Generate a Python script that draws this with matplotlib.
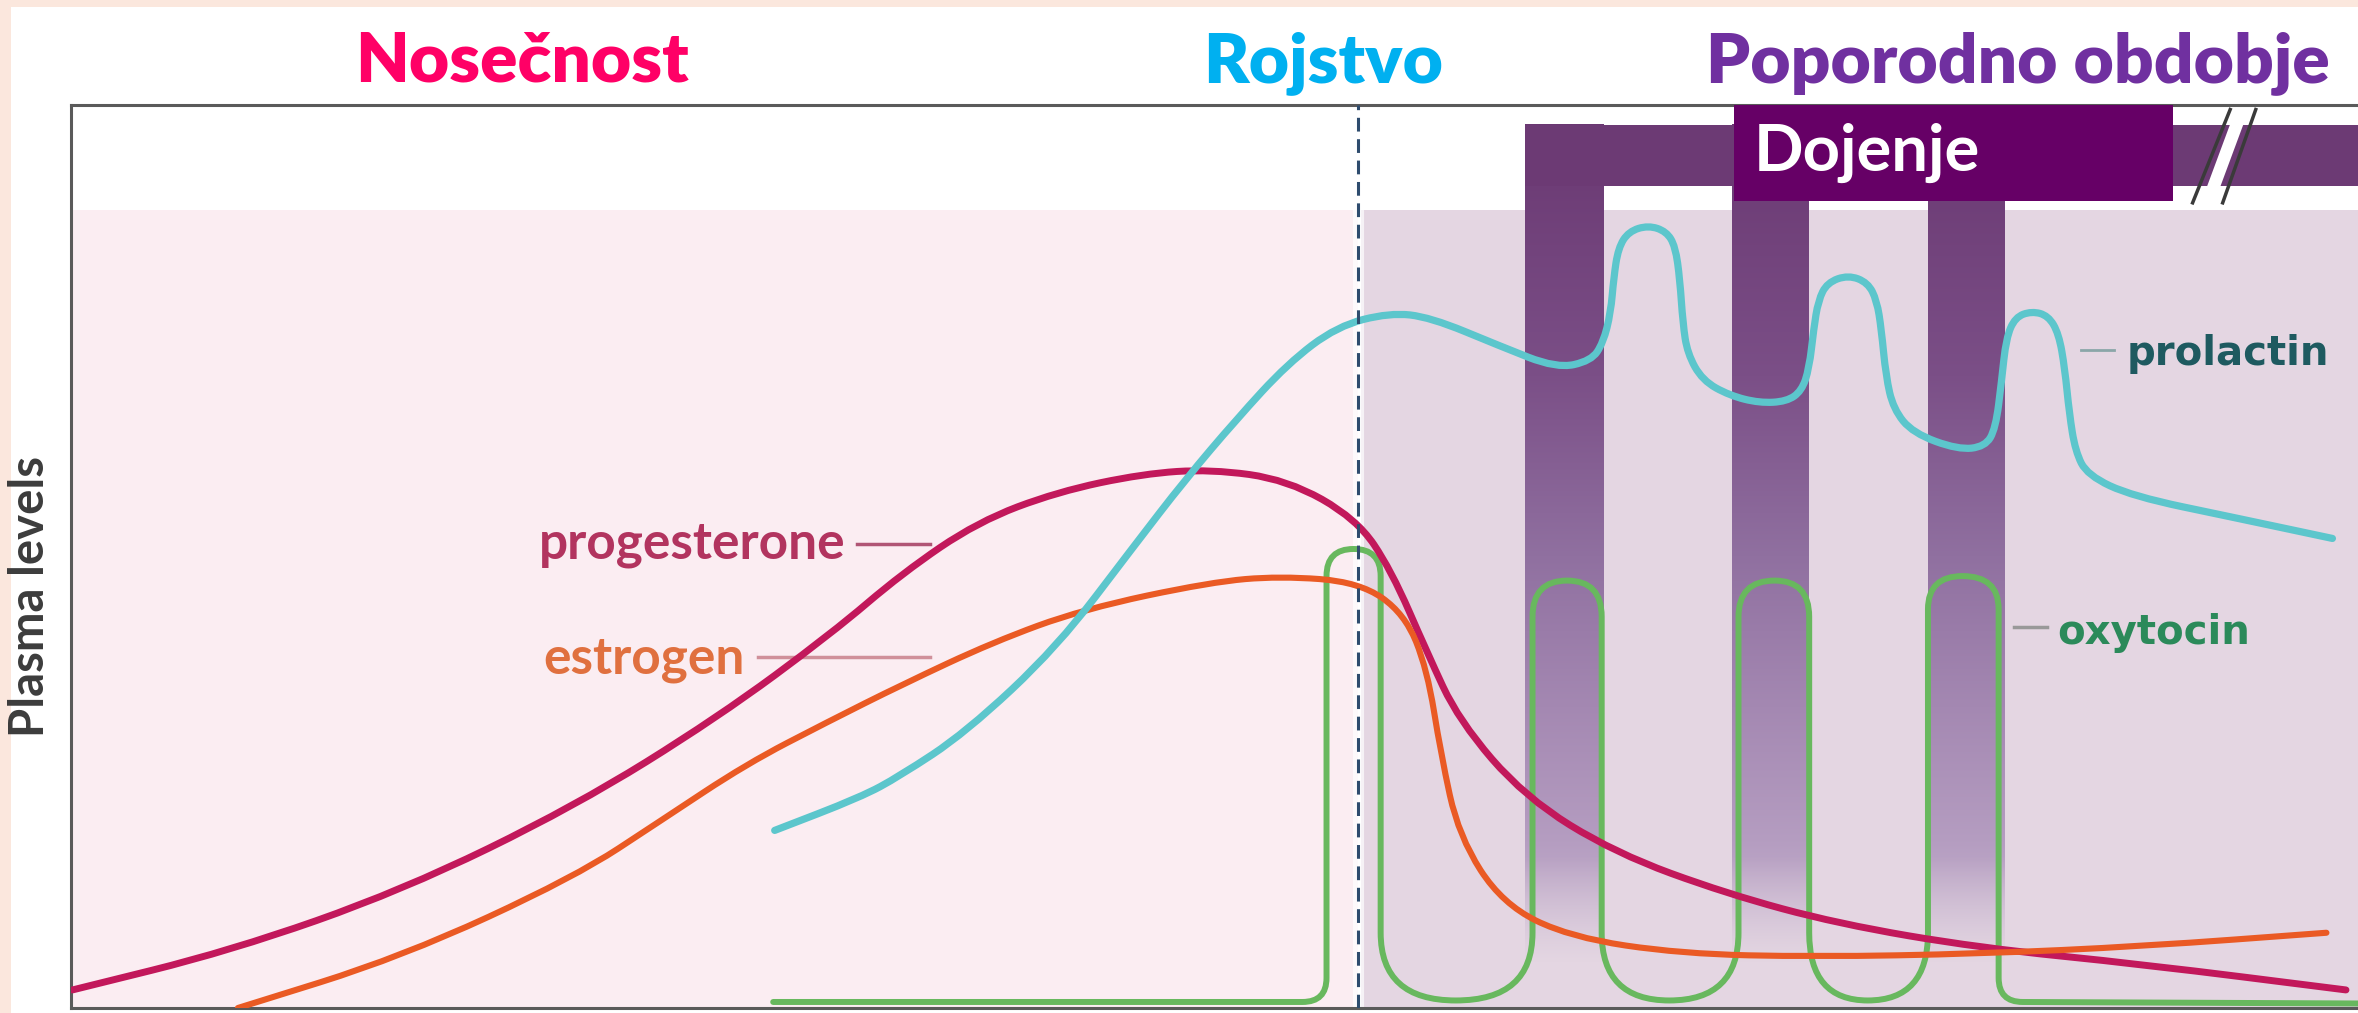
import numpy as np
import matplotlib
matplotlib.use('Agg')
import matplotlib.pyplot as plt
from matplotlib.patches import Rectangle, PathPatch
from matplotlib.path import Path
from matplotlib.colors import to_rgb

# --- data (time in arbitrary units, level in arbitrary units) ---
prog_t = [1, 106, 220, 335, 430, 506, 553, 603, 656, 713, 758, 809, 855, 878,
          902, 923, 967, 1027, 1101, 1175, 1269, 1378, 1513]
prog_L = [12, 38, 78, 134, 193, 249, 289, 323, 343, 355, 358, 351, 325, 291,
          236, 191, 140, 103, 76, 56, 40, 29, 12]

estr_t = [111, 220, 335, 393, 449, 503, 553, 613, 673, 758, 804, 857, 887, 902, 911, 923,
          952, 997, 1071, 1160, 1269, 1378, 1500]
estr_L = [0, 34, 87, 125, 162, 190, 215, 243, 265, 283, 287, 283, 262, 225, 169, 114,
          69, 47, 36, 34, 36, 41, 50]

prol_t = [468, 525, 551, 595, 656, 707, 741, 775, 809, 842, 877, 904, 950, 988, 1011, 1019,
          1024, 1026, 1029, 1036, 1049, 1061, 1067, 1070, 1072, 1075, 1085, 1103, 1123, 1141,
          1151, 1156, 1159, 1162, 1168, 1182, 1195, 1201, 1204, 1207, 1212, 1225, 1255, 1273,
          1280, 1284, 1287, 1293, 1304, 1315, 1322, 1326, 1329, 1333, 1341, 1371, 1438, 1504]
prol_L = [118, 140, 154, 183, 240, 307, 351, 391, 428, 453, 462, 459, 440, 425, 430, 442,
          462, 485, 505, 516, 520, 516, 506, 484, 455, 435, 417, 407, 402, 403,
          410, 425, 451, 470, 482, 487, 482, 470, 451, 420, 398, 382, 371, 373,
          385, 417, 445, 459, 463, 460, 448, 425, 395, 370, 354, 340, 326, 312]

# oxytocin: vertices of a rounded pulse train (M=move, L=line, C=quadratic corner)
oxy_t = [467, 819, 835, 835, 835, 835, 853, 871, 871, 871, 871, 921, 972, 972, 972, 972,
         995, 1018, 1018, 1018, 1018, 1063, 1109, 1109, 1109, 1109, 1133, 1156, 1156, 1156,
         1156, 1195, 1235, 1235, 1235, 1235, 1258, 1282, 1282, 1282, 1282, 1298, 1521]
oxy_L = [4, 4, 4, 20, 287, 305, 305, 305, 287, 50, 5, 5, 5, 50, 260, 284, 284, 284, 260,
         50, 5, 5, 5, 50, 260, 284, 284, 284, 260, 50, 5, 5, 5, 50, 265, 287, 287, 287,
         265, 20, 4, 4, 3]
oxy_codes = "MLCCL" + "CCCCL" * 7 + "CCL"

birth_t = 856
feed_bars = [(967, 1019), (1105, 1156), (1235, 1286)]

phase_titles = ["Nosečnost", "Rojstvo", "Poporodno obdobje"]
phase_colors = ["#ff0066", "#00b0f0", "#7030a0"]
phase_x = [0.2214, 0.561, 0.8558]


def smooth_path(xs, ys):
    # read points used as quadratic bezier controls so the renderer draws a smooth curve
    pts = np.column_stack([xs, ys]).astype(float)
    mids = (pts[:-1] + pts[1:]) / 2
    verts = [pts[0], mids[0]]
    codes = [Path.MOVETO, Path.LINETO]
    for i in range(1, len(pts) - 1):
        verts += [pts[i], mids[i]]
        codes += [Path.CURVE3, Path.CURVE3]
    verts.append(pts[-1])
    codes.append(Path.LINETO)
    return Path(verts, codes)


# --- figure ---
fig = plt.figure(figsize=(23.58, 10.13), dpi=100, facecolor='#fbe7dd')
fig.patches.append(Rectangle((11 / 2358, 0), 1, 1 - 7 / 1013, transform=fig.transFigure,
                             facecolor='white', edgecolor='none', zorder=-10))

ax = fig.add_axes([71 / 2358, 5 / 1013, 2287 / 2358, 903 / 1013])
ax.set_facecolor('white')

# backgrounds
ax.add_patch(Rectangle((0, 0), birth_t, 530, facecolor='#fbedf2', edgecolor='none', zorder=0))
ax.add_patch(Rectangle((birth_t + 2, 0), 1521 - birth_t, 530, facecolor='#e4d6e2',
                       edgecolor='none', zorder=0))

# breastfeeding bars with fading gradient
stops_L = [30, 110, 200, 300, 420, 587]
stops_c = [to_rgb(c) for c in ['#cdbdd3', '#b59dc1', '#a488b2', '#9070a0', '#7b4f87', '#6a3872']]
Lg = np.linspace(30, 587, 400)
rgb = np.stack([np.interp(Lg, stops_L, [c[i] for c in stops_c]) for i in range(3)], axis=1)
alpha = np.clip((Lg - 30) / 70, 0, 1)
grad = np.concatenate([rgb, alpha[:, None]], axis=1)[:, None, :]
for t0, t1 in feed_bars:
    ax.imshow(grad, extent=[t0, t1, 30, 587], origin='lower', aspect='auto',
              interpolation='bilinear', zorder=2)
ax.add_patch(Rectangle((967, 546), 1521 - 967, 41, facecolor='#6c3a74', edgecolor='none', zorder=2))

# break mark on the bar
ax.plot([1421, 1444], [535, 597], color='white', lw=9, solid_capstyle='butt', zorder=3)
ax.plot([1411, 1436], [535, 597], color='#3a3a3a', lw=2.5, zorder=3)
ax.plot([1431, 1453], [535, 597], color='#3a3a3a', lw=2.5, zorder=3)

# Dojenje box
ax.add_patch(Rectangle((1106, 536), 292, 64, facecolor='#660066', edgecolor='none', zorder=4))
ax.text(1119, 556, "Dojenje", color='white', fontsize=47, fontweight='bold',
        family=['Lato', 'DejaVu Sans'], ha='left', va='baseline', zorder=5)

# birth line
ax.plot([birth_t, birth_t], [0, 600], color='white', lw=8, alpha=0.7, zorder=1)
ax.plot([birth_t, birth_t], [0, 600], color='#2e4c6e', lw=2.2, dashes=(4.5, 2.5), zorder=6)

# hormone curves
ax.add_patch(PathPatch(smooth_path(prog_t, prog_L), facecolor='none', edgecolor='#c2185b',
                       lw=5.0, capstyle='round', joinstyle='round', zorder=5))
ax.add_patch(PathPatch(smooth_path(estr_t, estr_L), facecolor='none', edgecolor='#ea5a24',
                       lw=4.4, capstyle='round', joinstyle='round', zorder=5))
ax.add_patch(PathPatch(smooth_path(prol_t, prol_L), facecolor='none', edgecolor='#5cc6cc',
                       lw=5.2, capstyle='round', joinstyle='round', zorder=5))
code_map = {'M': Path.MOVETO, 'L': Path.LINETO, 'C': Path.CURVE3}
oxy_path = Path(np.column_stack([oxy_t, oxy_L]), [code_map[c] for c in oxy_codes])
ax.add_patch(PathPatch(oxy_path, facecolor='none', edgecolor='#68b85e', lw=4.3,
                       capstyle='round', zorder=4))

# curve labels with leader lines
lab_font = ['Lato', 'DejaVu Sans']
ax.text(515, 299, "progesterone", color='#b2345f', fontsize=37, fontweight='bold',
        family=lab_font, ha='right', va='baseline', zorder=6)
ax.plot([523, 571], [308, 308], color='#b05575', lw=2.5, zorder=4)
ax.text(448, 222, "estrogen", color='#e0703f', fontsize=37, fontweight='bold',
        family=lab_font, ha='right', va='baseline', zorder=6)
ax.plot([457, 571], [233, 233], color='#d0909a', lw=2.5, zorder=4)
ax.text(1367, 427, "prolactin", color='#1e5a60', fontsize=29, fontweight='bold',
        ha='left', va='baseline', zorder=6)
ax.plot([1337, 1359], [437, 437], color='#8aa6a8', lw=2, zorder=4)
ax.text(1321, 242, "oxytocin", color='#2b8a5a', fontsize=29, fontweight='bold',
        ha='left', va='baseline', zorder=6)
ax.plot([1292, 1314], [253, 253], color='#999999', lw=2.5, zorder=4)

ax.set_xlim(0, 1521)
ax.set_ylim(0, 600)
ax.set_xticks([])
ax.set_yticks([])
for side in ['left', 'top', 'bottom']:
    ax.spines[side].set_color('#5a5a5a')
    ax.spines[side].set_linewidth(2.2)
ax.spines['right'].set_visible(False)

fig.text(0.0127, 0.4107, "Plasma levels", rotation=90, color='#3c3c3c', fontsize=34,
         fontweight='bold', family=lab_font, ha='center', va='center')

for title, col, xp in zip(phase_titles, phase_colors, phase_x):
    fig.text(xp, 1 - 82 / 1013, title, color=col, fontsize=50, fontweight='heavy',
             family=['Lato', 'DejaVu Sans'], ha='center', va='baseline')

fig.savefig('out.png', dpi=100, facecolor=fig.get_facecolor())
